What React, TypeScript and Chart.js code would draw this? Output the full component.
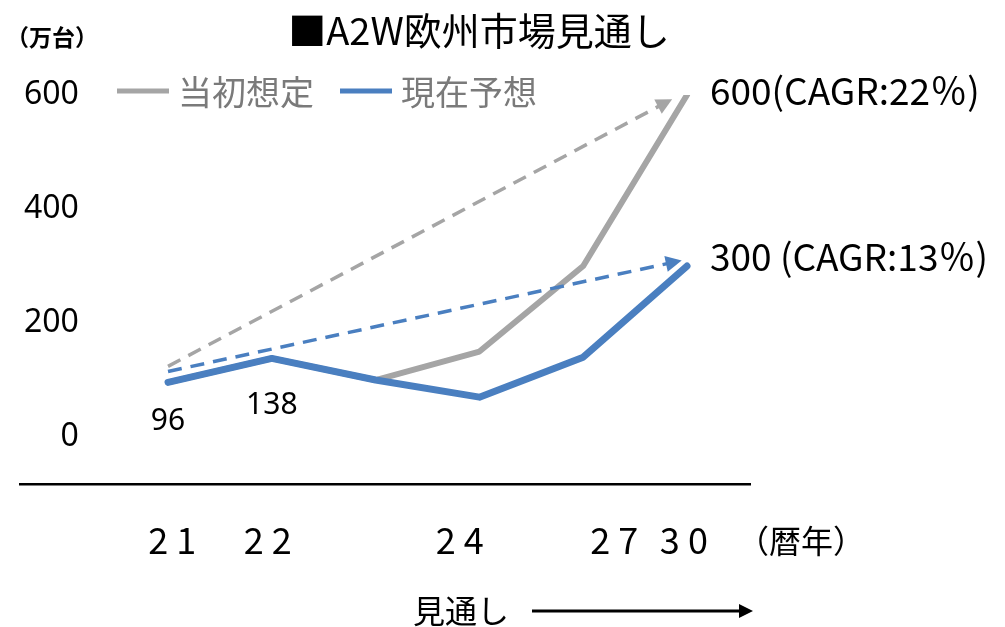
import React, { useEffect, useRef } from "react";
import { Chart, registerables } from "chart.js";

Chart.register(...registerables);

// ---- chart content ----
const chartTitle = "■A2W欧州市場見通し";
const unitText = "（万台）";
const seriesNames = ["当初想定", "現在予想"];
const initialPlan = [96, 138, 100, 150, 300, 600];
const currentForecast = [96, 138, 100, 70, 140, 300];
const endNotes = ["600(CAGR:22％)", "300 (CAGR:13％)"];
// dashed trend arrows (start value at first point, end value and where it ends)
const trendFrom = [124, 115];
const trendTo = [591, 309];
const trendEndAt = [4.84, 4.93];
// year labels along the bottom axis and where they sit on the point index scale
const yearLabels = ["2 1", "2 2", "2 4", "2 7", "3 0"];
const yearLabelAt = [0.04, 0.96, 2.81, 4.3, 4.97];
const yearUnit = "（暦年）";
const outlookText = "見通し";
const yTicks = [0, 200, 400, 600];
const labelledPoints = [0, 1];

// ---- styling ----
const CJK = '"Noto Sans CJK JP", "Noto Sans", sans-serif';
const LATIN = '"Noto Sans", "Open Sans", sans-serif';
const GRAY = "#a5a5a5";
const BLUE = "#4a7fc0";
const W = 1005;
const H = 627;
const valueLabelDrop = [39, 47];
const endNoteShift = [
  { dx: 23, dy: -4 },
  { dx: 23, dy: -9 },
];

const decorations = {
  id: "decorations",
  afterDraw(chart: any) {
    const { ctx } = chart;
    ctx.save();

    // title
    ctx.fillStyle = "#000";
    ctx.textBaseline = "middle";
    ctx.textAlign = "center";
    ctx.font = `38px ${CJK}`;
    ctx.fillText(chartTitle, 479, 31);

    // unit
    ctx.font = `bold 23px ${CJK}`;
    ctx.fillText(unitText, 52, 37);

    // legend
    const legendItems = [
      { x: 117, color: GRAY },
      { x: 340, color: BLUE },
    ];
    legendItems.forEach((it, i) => {
      const ds = chart.data.datasets[i];
      ctx.strokeStyle = ds.borderColor;
      ctx.lineWidth = 5;
      ctx.lineCap = "butt";
      ctx.beginPath();
      ctx.moveTo(it.x, 91);
      ctx.lineTo(it.x + 52, 91);
      ctx.stroke();
      ctx.fillStyle = "#7a7a7a";
      ctx.textAlign = "left";
      ctx.font = `34px ${CJK}`;
      ctx.fillText(ds.label, it.x + 61, 92);
    });

    // value labels under the current forecast
    const blueMeta = chart.getDatasetMeta(1);
    ctx.fillStyle = "#000";
    ctx.textAlign = "center";
    ctx.font = `30px ${LATIN}`;
    labelledPoints.forEach((idx, k) => {
      const p = blueMeta.data[idx];
      ctx.fillText(String(currentForecast[idx]), p.x, p.y + valueLabelDrop[k]);
    });

    // notes at the end of each series
    ctx.textAlign = "left";
    ctx.font = `37px ${CJK}`;
    [0, 1].forEach((di) => {
      const meta = chart.getDatasetMeta(di);
      const last = meta.data[meta.data.length - 1];
      ctx.fillText(endNotes[di], last.x + endNoteShift[di].dx, last.y + endNoteShift[di].dy);
    });

    // arrow heads on the dashed trend lines
    [2, 3].forEach((di) => {
      const meta = chart.getDatasetMeta(di);
      const a = meta.data[0];
      const b = meta.data[meta.data.length - 1];
      const ang = Math.atan2(b.y - a.y, b.x - a.x);
      const tipX = b.x + Math.cos(ang) * 2;
      const tipY = b.y + Math.sin(ang) * 2;
      const len = 16;
      const half = 8;
      const bx = tipX - Math.cos(ang) * len;
      const by = tipY - Math.sin(ang) * len;
      ctx.fillStyle = chart.data.datasets[di].borderColor;
      ctx.beginPath();
      ctx.moveTo(tipX, tipY);
      ctx.lineTo(bx + Math.sin(ang) * half, by - Math.cos(ang) * half);
      ctx.lineTo(bx - Math.sin(ang) * half, by + Math.cos(ang) * half);
      ctx.closePath();
      ctx.fill();
    });

    // year unit beside the axis labels
    ctx.fillStyle = "#000";
    ctx.textAlign = "center";
    ctx.font = `32px ${CJK}`;
    ctx.fillText(yearUnit, 801, 541);

    // outlook caption with arrow
    ctx.textAlign = "left";
    ctx.fillText(outlookText, 413, 611);
    ctx.strokeStyle = "#000";
    ctx.lineWidth = 3;
    ctx.beginPath();
    ctx.moveTo(532, 611);
    ctx.lineTo(742, 611);
    ctx.stroke();
    ctx.fillStyle = "#000";
    ctx.beginPath();
    ctx.moveTo(753, 611);
    ctx.lineTo(739, 604);
    ctx.lineTo(739, 618);
    ctx.closePath();
    ctx.fill();

    ctx.restore();
  },
};

export default function App() {
  const canvasRef = useRef<HTMLCanvasElement | null>(null);

  useEffect(() => {
    const canvas = canvasRef.current;
    if (!canvas) return;
    const toPoints = (vals: number[]) => vals.map((v, i) => ({ x: i, y: v }));
    const chart = new Chart(canvas, {
      type: "line",
      data: {
        datasets: [
          {
            label: seriesNames[0],
            data: toPoints(initialPlan),
            borderColor: GRAY,
            borderWidth: 6,
            pointRadius: 0,
            tension: 0,
            borderCapStyle: "round",
            borderJoinStyle: "round",
            order: 4,
          },
          {
            label: seriesNames[1],
            data: toPoints(currentForecast),
            borderColor: BLUE,
            borderWidth: 7,
            pointRadius: 0,
            tension: 0,
            borderCapStyle: "round",
            borderJoinStyle: "round",
            order: 3,
          },
          {
            label: "trend-initial",
            data: [
              { x: 0, y: trendFrom[0] },
              { x: trendEndAt[0], y: trendTo[0] },
            ],
            borderColor: GRAY,
            borderWidth: 3.5,
            borderDash: [14, 9],
            pointRadius: 0,
            order: 2,
          },
          {
            label: "trend-current",
            data: [
              { x: 0, y: trendFrom[1] },
              { x: trendEndAt[1], y: trendTo[1] },
            ],
            borderColor: BLUE,
            borderWidth: 3.5,
            borderDash: [14, 9],
            pointRadius: 0,
            order: 1,
          },
        ],
      },
      options: {
        responsive: false,
        animation: false,
        devicePixelRatio: 1,
        layout: { padding: { left: 12, right: W - 750, top: 95, bottom: 30 } },
        plugins: {
          legend: { display: false },
          title: { display: false },
          tooltip: { enabled: false },
        },
        scales: {
          x: {
            type: "linear",
            min: -1.426,
            max: 5.607,
            grid: { display: false, drawTicks: false },
            border: { display: true, color: "#000", width: 2.5 },
            afterBuildTicks: (scale: any) => {
              scale.ticks = yearLabelAt.map((v) => ({ value: v }));
            },
            ticks: {
              autoSkip: false,
              maxRotation: 0,
              padding: 35,
              color: "#000",
              font: { family: CJK, size: 36 },
              callback: (_v: any, i: number) => yearLabels[i],
            },
          },
          y: {
            type: "linear",
            min: -82,
            max: 600,
            grid: { display: false, drawTicks: false },
            border: { display: false },
            afterBuildTicks: (scale: any) => {
              scale.ticks = yTicks.map((v) => ({ value: v }));
            },
            ticks: {
              mirror: true,
              crossAlign: "far",
              padding: 4,
              color: "#000",
              font: { family: LATIN, size: 32 },
              callback: (v: any) => String(v),
            },
          },
        },
      },
      plugins: [decorations],
    });
    return () => chart.destroy();
  }, []);

  return (
    <div style={{ position: "absolute", left: 0, top: 0, width: W, height: H, background: "#fff" }}>
      <canvas ref={canvasRef} width={W} height={H} style={{ width: W, height: H, display: "block" }} />
    </div>
  );
}
